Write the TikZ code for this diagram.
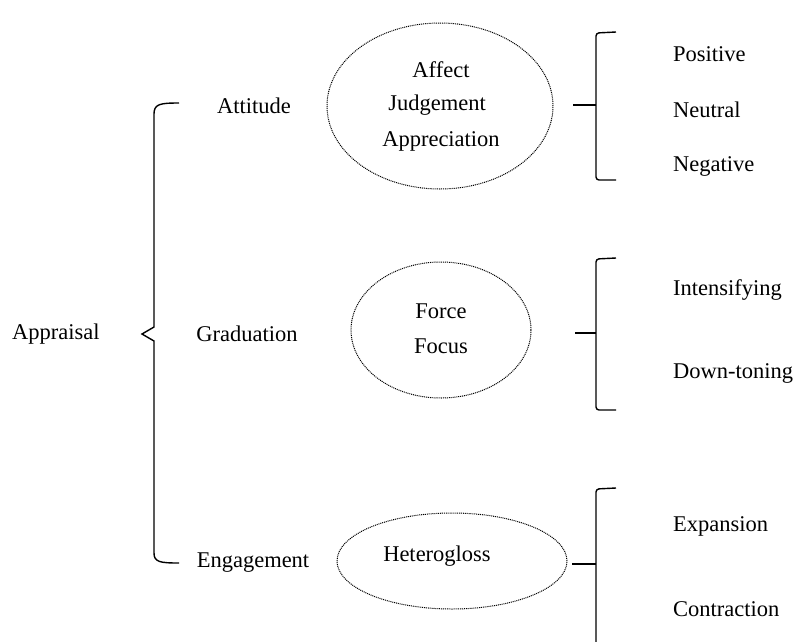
\documentclass[tikz,border=0pt]{standalone}
\usepackage{fontspec}
\setmainfont{Liberation Serif}
\usetikzlibrary{shapes.geometric}
\begin{document}
\begin{tikzpicture}[x=1pt,y=-1pt,
  lbl/.style={font=\fontsize{22.5}{26}\selectfont, inner sep=0pt},
  leftlbl/.style={lbl, anchor=west},
  cloud/.style={draw, ellipse, line width=1pt, dash pattern=on 1pt off 0.9pt},
  brk/.style={line width=1.4pt, rounded corners=3pt},
  tick/.style={line width=2.2pt}]
\useasboundingbox (0,0) rectangle (798,641);

% root and first-level labels
\node[leftlbl] (appraisal) at (12,334) {Appraisal};
\node[lbl] (attitude) at (254,106) {Attitude};
\node[lbl] (graduation) at (247,334) {Graduation};
\node[lbl] (engagement) at (253,563) {Engagement};

% left brace
\draw[line width=1.4pt] (179,103) .. controls (160,103) and (154,104) .. (154,114)
  -- (154,327) -- (142,334) -- (154,341) -- (154,553)
  .. controls (154,562) and (160,563) .. (179,563);

% ellipses with sub-categories
\node[cloud, minimum width=226pt, minimum height=166pt] (e1) at (440,106) {};
\node[lbl] (affect) at (441,70) {Affect};
\node[lbl] (judgement) at (437,105) {Judgement};
\node[lbl] (appreciation) at (441,141) {Appreciation};

\node[cloud, minimum width=180pt, minimum height=136pt] (e2) at (441,330) {};
\node[lbl] (force) at (441,311) {Force};
\node[lbl] (focus) at (441,346) {Focus};

\node[cloud, minimum width=230pt, minimum height=96pt] (e3) at (452,561) {};
\node[lbl] (heterogloss) at (437,556) {Heterogloss};

% right brackets
\coordinate (t1) at (573,105);
\coordinate (m1) at (596,105);
\draw[brk] (616,32) -- (596,33) -- (596,180) -- (616,180);
\draw[tick] (t1) -- (m1);

\coordinate (t2) at (575,333);
\coordinate (m2) at (596,333);
\draw[brk] (616,258) -- (596,259) -- (596,410) -- (616,410);
\draw[tick] (t2) -- (m2);

\coordinate (t3) at (572,564);
\coordinate (m3) at (596,564);
\draw[brk] (616,488) -- (596,489) -- (596,650);
\draw[tick] (t3) -- (m3);

% values
\node[leftlbl] (positive) at (673,54) {Positive};
\node[leftlbl] (neutral) at (673,110) {Neutral};
\node[leftlbl] (negative) at (673,166) {Negative};
\node[leftlbl] (intensifying) at (673,290) {Intensifying};
\node[leftlbl] (downtoning) at (673,373) {Down-toning};
\node[leftlbl] (expansion) at (673,526) {Expansion};
\node[leftlbl] (contraction) at (673,609) {Contraction};
\end{tikzpicture}
\end{document}
